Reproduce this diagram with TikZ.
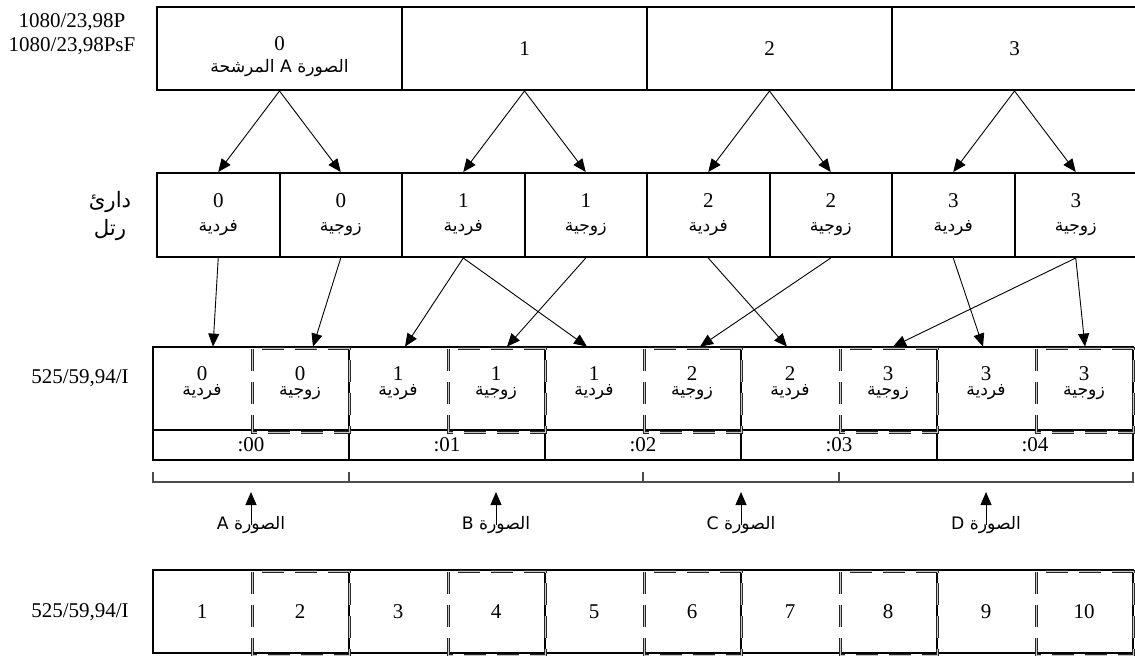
\documentclass[tikz,border=0pt]{standalone}
\usepackage{fontspec}
\setmainfont{Liberation Serif}
\newfontfamily\arabicfont[Script=Arabic,Scale=0.82]{DejaVu Sans}
\TeXXeTstate=1
\usetikzlibrary{arrows.meta}
\newcommand{\artext}[1]{{\arabicfont\beginR #1\endR}}
\newcommand{\fodd}{\artext{فردية}}
\newcommand{\feven}{\artext{زوجية}}
\newcommand{\stk}[4]{\raisebox{#4}[0pt][0pt]{\begin{tabular}{@{}c@{}}#1\\[#3]#2\end{tabular}}}
\tikzset{
  bx/.style={draw,line width=1pt,inner sep=0pt,align=center,font=\fontsize{10.5}{12}\selectfont},
  pic/.style={bx,minimum width=122.5pt,minimum height=41.5pt},
  fld/.style={bx,minimum width=61.25pt,minimum height=42pt},
  frm/.style={bx,minimum width=98pt,minimum height=41.5pt},
  tc/.style={bx,minimum width=98pt,minimum height=15pt},
  hf/.style={inner sep=0pt,minimum width=49pt,minimum height=41.5pt,align=center,font=\fontsize{10.5}{12}\selectfont},
  evd/.style={draw=black!85,double=gray!45,double distance=0.45pt,line width=0.45pt,dash pattern=on 11pt off 5.5pt},
  side/.style={align=center,font=\fontsize{10.5}{12}\selectfont},
  lbl/.style={font=\fontsize{10.5}{12}\selectfont},
  ln/.style={-{Triangle[length=6.5pt,width=5.5pt]},line width=0.45pt},
  br/.style={draw=black!70,line width=0.7pt},
}
\begin{document}
\begin{tikzpicture}[x=0.5pt,y=-0.5pt]
  \useasboundingbox (0,0) rectangle (1135,655);

  % labels on the left
  \node[side] (s1) at (72,34) {1080/23,98P\\1080/23,98PsF};
  \node[side,font=\fontsize{13}{14}\selectfont] (s2) at (110,216) {\artext{دارئ}\\\artext{رتل}};
  \node[side] (s3) at (80,378) {525/59,94/I};
  \node[side] (s4) at (80,612) {525/59,94/I};

  % film pictures
  \node[pic] (p0) at (279.5,48.5) {\stk{0}{\artext{الصورة A المرشحة}}{-1pt}{-7pt}};
  \foreach \i in {1,2,3}
    \node[pic] (p\i) at (279.5+245*\i,48.5) {\i};

  % segmented frame fields
  \foreach \j/\n/\w in {0/0/\fodd,1/0/\feven,2/1/\fodd,3/1/\feven,4/2/\fodd,5/2/\feven,6/3/\fodd,7/3/\feven}
    \node[fld] (f\j) at (218.25+122.5*\j,215) {\n\\\w};

  \foreach \i in {0,...,3}{
    \pgfmathtruncatemacro\a{2*\i}
    \pgfmathtruncatemacro\b{2*\i+1}
    \draw[ln] (p\i.south) -- (f\a.north);
    \draw[ln] (p\i.south) -- (f\b.north);
  }

  % interlaced frames with time code
  \foreach \k/\t in {0/:00,1/:01,2/:02,3/:03,4/:04}{
    \node[frm] (v\k) at (251+196*\k,388.5) {};
    \node[tc] (c\k) at (251+196*\k,445) {\t};
  }
  \foreach \m/\n in {0/0,1/0,2/1,3/1,4/1,5/2,6/2,7/3,8/3,9/3}
    \node[hf] (h\m) at (202+98*\m,388.5) {\stk{\n}{\ifodd\m\feven\else\fodd\fi}{-4.5pt}{0pt}};
  \foreach \m in {1,3,5,7,9}
    \draw[evd] ([xshift=1pt,yshift=-1pt]h\m.north west) rectangle ([yshift=-1pt]h\m.south east);

  \foreach \s/\t/\d in {0/0/5.5,1/1/6.5,2/2/3.5,2/4/-3.5,3/3/5.5,4/6/-1.5,5/5/4,6/8/-1.5,7/7/2.5,7/9/0.5}
    \draw[ln] (f\s.south) -- ([xshift=\d pt]h\t.north);

  % pulldown brackets
  \draw[br] (153,472) -- (153,482) -- (1133,482) -- (1133,472);
  \foreach \x in {349,643,839}
    \draw[br] (\x,472) -- (\x,482);
  \foreach \q/\x in {A/251,B/496,C/741,D/986}{
    \node[lbl] (l\q) at (\x,525) {\artext{الصورة \q}};
    \coordinate (t\q) at (\x,492);
    \draw[ln] (l\q.center) -- (t\q);
  }

  % output fields
  \foreach \k in {0,...,4}
    \node[frm] (w\k) at (251+196*\k,611.5) {};
  \foreach \m in {0,...,9}{
    \pgfmathtruncatemacro\n{\m+1}
    \node[hf] (b\m) at (202+98*\m,611.5) {\n};
  }
  \foreach \m in {1,3,5,7,9}
    \draw[evd] ([xshift=1pt,yshift=-1pt]b\m.north west) rectangle ([yshift=-1pt]b\m.south east);
\end{tikzpicture}
\end{document}
